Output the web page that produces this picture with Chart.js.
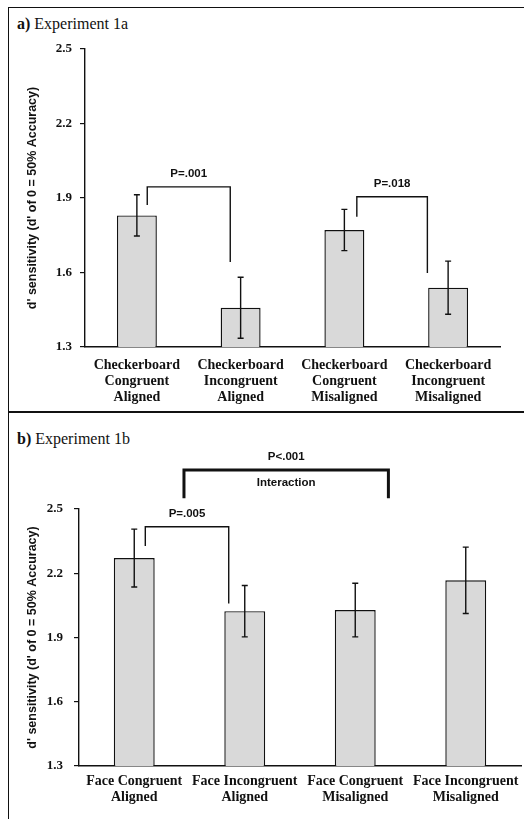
<!DOCTYPE html>
<html>
<head>
<meta charset="utf-8">
<script src="https://cdn.jsdelivr.net/npm/chart.js@4"></script>
<style>
  body { margin: 0; background: #fff; width: 524px; height: 819px; overflow: hidden; position: relative; }
  .frame { position: absolute; left: 8px; top: 7px; width: 530px; height: 830px; border-left: 1px solid #111; border-top: 1px solid #111; }
  .sep { position: absolute; left: 8px; top: 411px; width: 530px; height: 2px; background: #111; }
  .ptitle { position: absolute; left: 17px; font: 16px "Liberation Serif", serif; color: #111; line-height: 18px; }
  canvas { position: absolute; left: 0; }
</style>
</head>
<body>
<div class="frame"></div>
<div class="sep"></div>
<div class="ptitle" style="top:15px"><b>a)</b> Experiment 1a</div>
<div class="ptitle" style="top:430px"><b>b)</b> Experiment 1b</div>
<canvas id="chartA" width="524" height="411" style="top:0"></canvas>
<canvas id="chartB" width="524" height="406" style="top:413px"></canvas>
<script>
// ── Data ────────────────────────────────────────────────────────────────────
const yTicks = [1.3, 1.6, 1.9, 2.2, 2.5];
const yTitle = "d' sensitivity (d' of 0 = 50% Accuracy)";

const labelsA = [
  ['Checkerboard', 'Congruent', 'Aligned'],
  ['Checkerboard', 'Incongruent', 'Aligned'],
  ['Checkerboard', 'Congruent', 'Misaligned'],
  ['Checkerboard', 'Incongruent', 'Misaligned']
];
const meansA = [1.83, 1.458, 1.771, 1.539];
const errsA = [0.083, 0.123, 0.083, 0.107];
// brackets: category index span, heights in d' units
const bracketsA = [
  { from: 0.1, to: 0.9, top: 1.945, leftEnd: 1.872, rightEnd: 1.642, text: 'P=.001' },
  { from: 2.12, to: 2.8, top: 1.905, leftEnd: 1.825, rightEnd: 1.598, text: 'P=.018' }
];

const labelsB = [
  ['Face Congruent', 'Aligned'],
  ['Face Incongruent', 'Aligned'],
  ['Face Congruent', 'Misaligned'],
  ['Face Incongruent', 'Misaligned']
];
const meansB = [2.271, 2.023, 2.028, 2.167];
const errsB = [0.135, 0.12, 0.125, 0.155];
const bracketsB = [
  { from: 0.1, to: 0.855, top: 2.417, leftEnd: 2.327, rightEnd: 2.059, text: 'P=.005' },
  { from: 0.45, to: 2.3, top: 2.682, leftEnd: 2.55, rightEnd: 2.55, text: 'P<.001', sub: 'Interaction', width: 3 }
];

// ── Plugins ─────────────────────────────────────────────────────────────────
const errorBars = {
  id: 'errorBars',
  afterDatasetsDraw(chart, args, opts) {
    const { ctx, scales: { y } } = chart;
    const vals = chart.data.datasets[0].data;
    ctx.save();
    ctx.strokeStyle = '#111';
    ctx.lineWidth = 1.4;
    chart.getDatasetMeta(0).data.forEach((bar, i) => {
      const hi = y.getPixelForValue(vals[i] + opts.errs[i]);
      const lo = y.getPixelForValue(vals[i] - opts.errs[i]);
      ctx.beginPath();
      ctx.moveTo(bar.x, hi); ctx.lineTo(bar.x, lo);
      ctx.moveTo(bar.x - 3, hi); ctx.lineTo(bar.x + 3, hi);
      ctx.moveTo(bar.x - 3, lo); ctx.lineTo(bar.x + 3, lo);
      ctx.stroke();
    });
    ctx.restore();
  }
};

const brackets = {
  id: 'brackets',
  afterDraw(chart, args, opts) {
    const { ctx, scales: { x, y } } = chart;
    ctx.save();
    ctx.strokeStyle = '#111';
    ctx.fillStyle = '#111';
    ctx.textAlign = 'center';
    ctx.textBaseline = 'middle';
    ctx.font = 'bold 11.5px "Liberation Sans", sans-serif';
    opts.items.forEach(b => {
      const x1 = x.getPixelForValue(b.from), x2 = x.getPixelForValue(b.to);
      const yt = y.getPixelForValue(b.top);
      ctx.lineWidth = b.width || 1.4;
      ctx.beginPath();
      ctx.moveTo(x1, y.getPixelForValue(b.leftEnd));
      ctx.lineTo(x1, yt);
      ctx.lineTo(x2, yt);
      ctx.lineTo(x2, y.getPixelForValue(b.rightEnd));
      ctx.stroke();
      const cx = (x1 + x2) / 2;
      ctx.fillText(b.text, cx, yt - 13);
      if (b.sub) ctx.fillText(b.sub, cx, yt + 13);
    });
    ctx.restore();
  }
};

// ── Chart builder ───────────────────────────────────────────────────────────
function makePanel(id, labels, means, errs, items, lay) {
  return new Chart(document.getElementById(id), {
    type: 'bar',
    data: {
      labels,
      datasets: [{
        data: means,
        backgroundColor: '#d9d9d9',
        borderColor: '#111',
        borderWidth: 1.4,
        barPercentage: lay.barPct,
        categoryPercentage: 1
      }]
    },
    plugins: [errorBars, brackets],
    options: {
      responsive: false,
      animation: false,
      devicePixelRatio: 1,
      layout: { padding: { left: lay.left, right: lay.right, top: lay.top, bottom: 2 } },
      plugins: {
        legend: { display: false },
        tooltip: { enabled: false },
        errorBars: { errs },
        brackets: { items }
      },
      scales: {
        x: {
          grid: { display: false },
          border: { color: '#111', width: 1.4 },
          ticks: {
            color: '#111',
            padding: lay.xPad,
            autoSkip: false,
            maxRotation: 0,
            minRotation: 0,
            font: { family: '"Liberation Serif", serif', size: 14, weight: 'bold', lineHeight: 1.15 }
          },
          afterFit: s => { s.height = lay.xH; s.paddingLeft = 0; s.paddingRight = 0; }
        },
        y: {
          min: 1.3,
          max: 2.5,
          afterBuildTicks: s => { s.ticks = yTicks.map(v => ({ value: v })); },
          grid: { drawOnChartArea: false, color: '#111', tickLength: 5, lineWidth: 1.2 },
          border: { color: '#111', width: 1.4 },
          ticks: {
            color: '#111',
            padding: lay.yPad,
            callback: v => v.toFixed(1),
            font: { family: '"Liberation Serif", serif', size: 13, weight: 'bold' }
          },
          title: {
            display: true,
            text: yTitle,
            color: '#111',
            font: { family: '"Liberation Sans", sans-serif', size: 12.5, weight: 'bold' }
          },
          afterFit: s => { s.width = lay.yW; }
        }
      }
    }
  });
}

// ── Init ────────────────────────────────────────────────────────────────────
makePanel('chartA', labelsA, meansA, errsA, bracketsA,
  { left: 21, right: 24, top: 49, yW: 64, xH: 62, xPad: 2, yPad: 8, barPct: 0.385 });
makePanel('chartB', labelsB, meansB, errsB, bracketsB,
  { left: 21, right: 3, top: 96, yW: 58, xH: 51, xPad: -1, yPad: 11, barPct: 0.37 });
</script>
</body>
</html>
